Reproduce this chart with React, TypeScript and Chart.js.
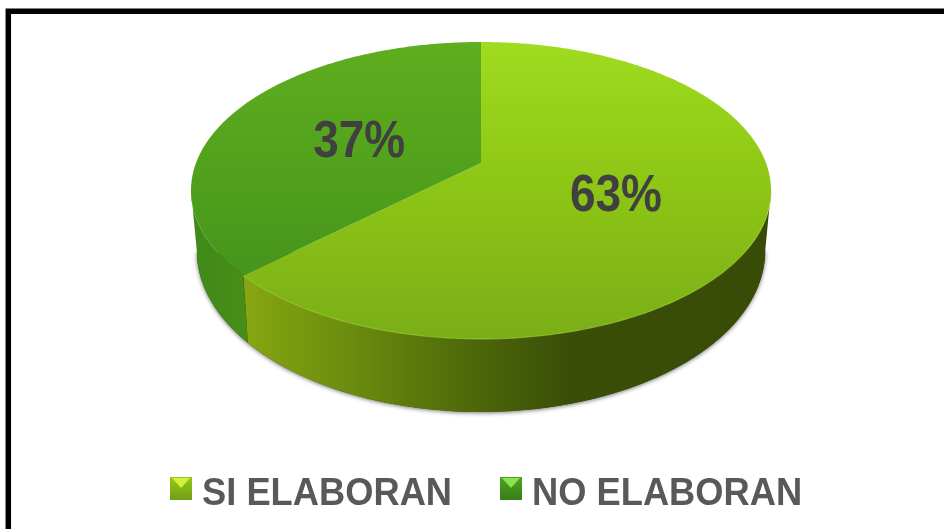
import React, { useEffect, useRef } from "react";
import { Chart, registerables } from "chart.js";

Chart.register(...registerables);

const categories = ["SI ELABORAN", "NO ELABORAN"];
const shares = [63, 37];

const FONT = '"Liberation Sans", Arial, sans-serif';
const topStops = [
  [[0, "#9fdc1f"], [0.5, "#8cc515"], [1, "#7aae18"]],
  [[0, "#5fae1f"], [0.5, "#4f9f1c"], [1, "#3f8c1e"]],
];
const wallStops = [
  [[0, "#86a612"], [0.2, "#6b8c0e"], [0.42, "#4f6a0a"], [0.62, "#3a4e08"], [1, "#394c07"]],
  [[0, "#3f8a1a"], [1, "#488e18"]],
];
const legendStops = [
  ["#d4f03c", "#94c81a", "#729e14"],
  ["#88e64c", "#4ea322", "#387f18"],
];
const labelNudge = [[0.505, 2.5], [0.467, -3.7]];

// perspective of the tilted disc
const CX = 481, CY = 163, AX = 285, BY = 143.4, K = -0.185;
const project = (deg: number, r = 1, sx = 1, sy = 1, dy = 0) => {
  const t = (deg * Math.PI) / 180;
  const x = r * Math.cos(t), y = r * Math.sin(t);
  const w = 1 + K * y;
  return [CX + (sx * AX * x) / w, CY + dy + (sy * BY * y) / w];
};

const pie3d = {
  id: "pie3d",
  beforeDraw(chart: any) {
    const { ctx, width, height } = chart;
    ctx.save();
    ctx.fillStyle = "#ffffff";
    ctx.fillRect(0, 0, width, height);
    ctx.strokeStyle = "#000000";
    ctx.lineWidth = 5.5;
    ctx.beginPath();
    ctx.moveTo(8.3, height + 5);
    ctx.lineTo(8.3, 11.3);
    ctx.lineTo(width + 5, 11.3);
    ctx.stroke();
    ctx.restore();
  },
  beforeDatasetDraw(chart: any) {
    const { ctx } = chart;
    const arcs = chart.getDatasetMeta(0).data;
    const deg = (a: number) => (a * 180) / Math.PI;
    const grad = (stops: any[], x0: number, y0: number, x1: number, y1: number) => {
      const g = ctx.createLinearGradient(x0, y0, x1, y1);
      stops.forEach(([o, c]: any) => g.addColorStop(o, c));
      return g;
    };
    const lower = (d: number) => project(d, 1, 0.98, 1.087, 57.7);
    const wallFrom = 10.7, wallTo = 169.3;
    ctx.save();
    // soft shadow under the wall
    ctx.save();
    ctx.shadowColor = "rgba(0,0,0,0.55)";
    ctx.shadowBlur = 4;
    ctx.shadowOffsetY = 1;
    ctx.fillStyle = "#3a4e08";
    ctx.beginPath();
    for (let d = wallFrom; d <= wallTo; d += 1) {
      const [x, y] = lower(d);
      if (d === wallFrom) ctx.moveTo(x, y);
      else ctx.lineTo(x, y);
    }
    ctx.closePath();
    ctx.fill();
    ctx.restore();
    // walls
    arcs.forEach((arc: any, i: number) => {
      const a = Math.max(deg(arc.startAngle), wallFrom);
      const b = Math.min(deg(arc.endAngle), wallTo);
      if (b <= a) return;
      ctx.beginPath();
      for (let d = a; d <= b; d += 0.5) {
        const [x, y] = project(d);
        d === a ? ctx.moveTo(x, y) : ctx.lineTo(x, y);
      }
      for (let d = b; d >= a; d -= 0.5) {
        const [x, y] = lower(d);
        ctx.lineTo(x, y);
      }
      ctx.closePath();
      ctx.fillStyle = i === 0 ? grad(wallStops[0], 245, 0, 768, 0) : grad(wallStops[1], 192, 0, 250, 0);
      ctx.fill();
    });
    // top faces
    arcs.forEach((arc: any, i: number) => {
      const a = deg(arc.startAngle), b = deg(arc.endAngle);
      ctx.beginPath();
      ctx.moveTo(CX, CY);
      for (let d = a; d < b; d += 0.5) {
        const [x, y] = project(d);
        ctx.lineTo(x, y);
      }
      const [ex, ey] = project(b);
      ctx.lineTo(ex, ey);
      ctx.closePath();
      ctx.fillStyle = grad(topStops[i], 0, 42, 0, 339);
      ctx.fill();
    });
    // light rim on the front edge
    ctx.beginPath();
    for (let d = wallFrom; d <= 136.8; d += 1) {
      const [x, y] = project(d);
      d === wallFrom ? ctx.moveTo(x, y) : ctx.lineTo(x, y);
    }
    ctx.strokeStyle = "rgba(170,215,60,0.55)";
    ctx.lineWidth = 1.2;
    ctx.stroke();
    ctx.restore();
    return false;
  },
  afterDatasetsDraw(chart: any) {
    const { ctx } = chart;
    const arcs = chart.getDatasetMeta(0).data;
    const tall = (text: string, x: number, y: number, sy: number) => {
      ctx.save();
      ctx.translate(x, y);
      ctx.scale(1, sy);
      ctx.fillText(text, 0, 0);
      ctx.restore();
    };
    ctx.save();
    ctx.font = `bold 46px ${FONT}`;
    ctx.fillStyle = "#404040";
    ctx.textAlign = "center";
    ctx.textBaseline = "middle";
    arcs.forEach((arc: any, i: number) => {
      const mid = (((arc.startAngle + arc.endAngle) / 2) * 180) / Math.PI;
      const [r, off] = labelNudge[i];
      const [x, y] = project(mid + off, r);
      tall(`${shares[i]}%`, x, y + 1, 1.14);
    });
    // legend
    const boxX = [170, 500], textX = [202, 532];
    ctx.textAlign = "left";
    ctx.textBaseline = "alphabetic";
    ctx.font = `bold 36.3px ${FONT}`;
    chart.data.labels.forEach((label: string, i: number) => {
      const x = boxX[i], y = 477, w = 22, h = 23;
      const g = ctx.createLinearGradient(0, y, 0, y + h);
      g.addColorStop(0, legendStops[i][1]);
      g.addColorStop(1, legendStops[i][2]);
      ctx.fillStyle = g;
      ctx.fillRect(x, y, w, h);
      ctx.fillStyle = legendStops[i][0];
      ctx.beginPath();
      ctx.moveTo(x + 2, y + 1);
      ctx.lineTo(x + w - 2, y + 1);
      ctx.lineTo(x + w / 2, y + 11);
      ctx.closePath();
      ctx.fill();
      ctx.fillStyle = "#595959";
      tall(label, textX[i], 505, 1.07);
    });
    ctx.restore();
  },
};

export default function App() {
  const ref = useRef<HTMLCanvasElement>(null);
  useEffect(() => {
    document.body.style.margin = "0";
    const chart = new Chart(ref.current!, {
      type: "pie",
      data: {
        labels: categories,
        datasets: [{ data: shares, backgroundColor: ["#8cc515", "#4f9f1c"], borderWidth: 0 }],
      },
      options: {
        responsive: false,
        animation: false,
        events: [],
        plugins: { legend: { display: false }, tooltip: { enabled: false } },
      },
      plugins: [pie3d],
    });
    return () => chart.destroy();
  }, []);
  return <canvas ref={ref} width={944} height={529} style={{ display: "block" }} />;
}
